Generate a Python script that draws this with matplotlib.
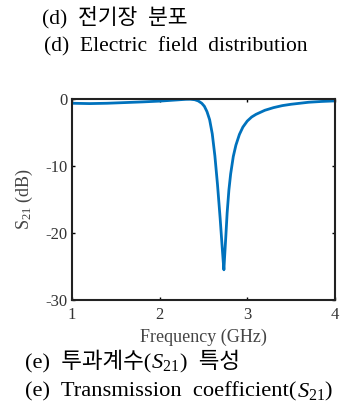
import matplotlib
matplotlib.use("Agg")
import matplotlib.pyplot as plt
from matplotlib.transforms import offset_copy

plt.rcParams['font.family'] = ['Liberation Serif', 'Noto Sans CJK KR']
plt.rcParams['mathtext.fontset'] = 'custom'
plt.rcParams['mathtext.rm'] = 'Liberation Serif'
plt.rcParams['mathtext.it'] = 'Liberation Serif:italic'
plt.rcParams['axes.unicode_minus'] = False

freq = [1.0, 1.2, 1.4, 1.6, 1.8, 2.0, 2.2, 2.3, 2.35, 2.4, 2.44, 2.48, 2.51, 2.54,
        2.57, 2.60, 2.63, 2.66, 2.69, 2.71, 2.725, 2.733, 2.74, 2.755, 2.77,
        2.79, 2.81, 2.84, 2.87, 2.91, 2.95, 3.0, 3.05, 3.1, 3.2, 3.3, 3.4, 3.5,
        3.6, 3.7, 3.85, 4.0]
s21 = [-0.65, -0.7, -0.65, -0.55, -0.45, -0.33, -0.15, -0.06, -0.05, -0.12, -0.3,
       -0.65, -1.1, -1.9, -3.1, -5.2, -8.5, -12.8, -17.8, -21.5, -24.2, -25.5,
       -23.8, -20.5, -17.0, -13.6, -11.2, -8.6, -6.9, -5.3, -4.2, -3.3, -2.7,
       -2.3, -1.7, -1.3, -1.0, -0.8, -0.65, -0.5, -0.38, -0.3]
xticks = [1, 2, 3, 4]
yticks = [0, -10, -20, -30]

fig = plt.figure(figsize=(3.40, 4.07), dpi=100)
ax = fig.add_axes([0.212, 0.263, 0.773, 0.494])
ax.plot(freq, s21, color='#0072BD', lw=2.0, solid_joinstyle='round')
ax.set_xlim(1, 4)
ax.set_ylim(-30, 0)
ax.set_xticks(xticks)
ax.set_yticks(yticks)
ax.tick_params(direction='in', top=True, right=True, length=2.5, width=1.0,
               labelsize=12, labelcolor='#333333', pad=3)
ax.tick_params(axis='x', pad=5)
for s in ax.spines.values():
    s.set_linewidth(1.5)
    s.set_color('#222222')
ax.set_xlabel('Frequency (GHz)', fontsize=13, color='#444444', labelpad=4)
ax.set_ylabel(r'S$_{\mathrm{21}}$ (dB)', fontsize=13, color='#444444', labelpad=8)

fs = 15.5
fig.text(0.125, 0.957, '(d)  전기장  분포', fontsize=fs, ha='left', va='center')
fig.text(0.128, 0.884, '(d)  Electric  field  distribution', fontsize=fs, ha='left', va='center')

renderer = fig.canvas.get_renderer()


def seq_text(x, y, parts, size):
    trans = fig.transFigure
    for p in parts:
        t = fig.text(x, y, p, fontsize=size, ha='left', va='baseline', transform=trans)
        bb = t.get_window_extent(renderer=renderer)
        trans = offset_copy(trans, fig=fig, x=bb.width, y=0, units='dots')


seq_text(0.074, 0.096, ['(e)  투과계수(', r'$\mathit{S}_{\mathrm{21}}$', ')  특성'], 16.2)
seq_text(0.074, 0.025, ['(e)  Transmission  coefficient(', r'$\mathit{S}_{\mathrm{21}}$', ')'], 16.2)

fig.savefig('out.png', dpi=100)
